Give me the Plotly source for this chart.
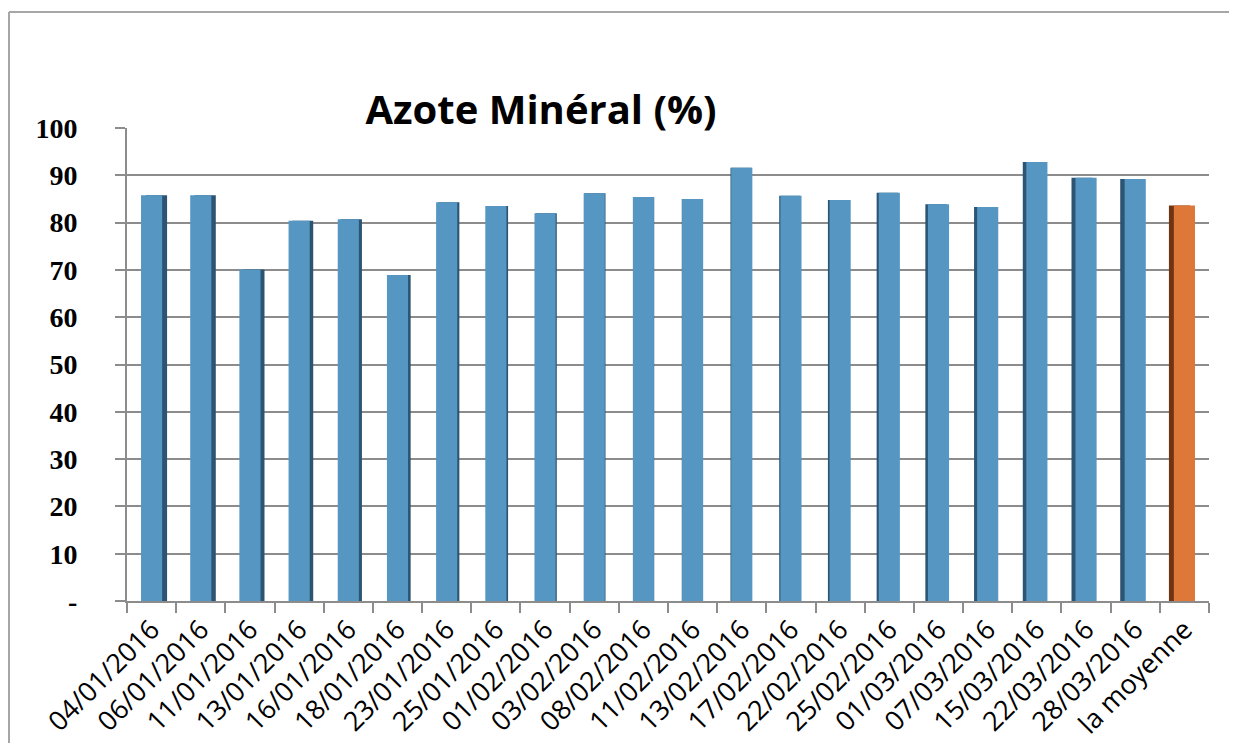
import plotly.graph_objects as go

# ---- data ----
dates = ["04/01/2016", "06/01/2016", "11/01/2016", "13/01/2016", "16/01/2016",
         "18/01/2016", "23/01/2016", "25/01/2016", "01/02/2016", "03/02/2016",
         "08/02/2016", "11/02/2016", "13/02/2016", "17/02/2016", "22/02/2016",
         "25/02/2016", "01/03/2016", "07/03/2016", "15/03/2016", "22/03/2016",
         "28/03/2016"]
azote = [85.8, 85.8, 70.1, 80.4, 80.7, 68.9, 84.3, 83.5, 82.0, 86.2,
         85.4, 85.0, 91.6, 85.7, 84.8, 86.3, 83.9, 83.3, 92.8, 89.5, 89.2]
mean_label = "la moyenne"
mean_value = 83.6
y_ticks = [0, 10, 20, 30, 40, 50, 60, 70, 80, 90, 100]
y_ticktext = ["-", "10", "20", "30", "40", "50", "60", "70", "80", "90", "100"]

categories = dates + [mean_label]
values = azote + [mean_value]
n = len(categories)

front_colors = ["#5596C3"] * len(dates) + ["#DE7838"]
side_colors = ["#2B5573"] * len(dates) + ["#6E3413"]

W = 0.43
mid = (n - 1) / 2
shifts = [0.1 * (mid - i) / mid for i in range(n)]

fig = go.Figure()
# dark side face (pseudo-3D)
fig.add_trace(go.Bar(
    x=categories, y=values, width=W,
    offset=[-W / 2 + s for s in shifts],
    marker=dict(color=side_colors, line=dict(width=0)),
    hoverinfo="skip", showlegend=False,
))
# front face
fig.add_trace(go.Bar(
    x=categories, y=values, width=W, offset=-W / 2,
    marker=dict(color=front_colors, line=dict(width=0)),
    showlegend=False,
))

# page body has an 8px margin: figure is offset by 8px and kept inside the window
FW, FH = 1221, 735
L, R, T, B = 119, 20, 120, 142
pw = FW - L - R
ph = FH - T - B

bx0 = (1 - L) / pw
bx1 = (FW + 20 - L) / pw
by_top = (FH - 4 - B) / ph
by_bot = -(B + 20) / ph
border = dict(color="#a6a6a6", width=2)

fig.update_layout(
    width=FW, height=FH,
    margin=dict(l=L, r=R, t=T, b=B, autoexpand=False),
    paper_bgcolor="white", plot_bgcolor="white",
    barmode="overlay",
    title=dict(text="<b>Azote Minéral (%)</b>", x=533 / FW, xref="container",
               xanchor="center", y=1 - 102 / FH, yref="container", yanchor="middle",
               font=dict(family="Open Sans", size=40, color="black")),
    xaxis=dict(
        type="category", tickangle=-45, tickson="boundaries",
        ticks="outside", ticklen=10, tickcolor="#8c8c8c", tickwidth=2,
        showline=True, linecolor="#8c8c8c", linewidth=2,
        showgrid=False, automargin=False,
        tickfont=dict(family="Open Sans", size=27, color="black"),
        range=[-0.5, n - 0.5],
    ),
    yaxis=dict(
        range=[0, 100], tickvals=y_ticks, ticktext=y_ticktext,
        ticks="outside", ticklen=10, tickcolor="#8c8c8c", tickwidth=2,
        showline=True, linecolor="#8c8c8c", linewidth=2,
        showgrid=True, gridcolor="#8c8c8c", gridwidth=2,
        zeroline=False, automargin=False,
        ticklabelstandoff=32,
        tickfont=dict(family="Liberation Serif", size=28, color="black", weight="bold"),
    ),
    shapes=[
        dict(type="line", xref="paper", yref="paper",
             x0=bx0, x1=bx1, y0=by_top, y1=by_top, line=border, layer="below"),
        dict(type="line", xref="paper", yref="paper",
             x0=bx0, x1=bx0, y0=by_bot, y1=by_top, line=border, layer="below"),
    ],
)

fig.write_html("out.html")
